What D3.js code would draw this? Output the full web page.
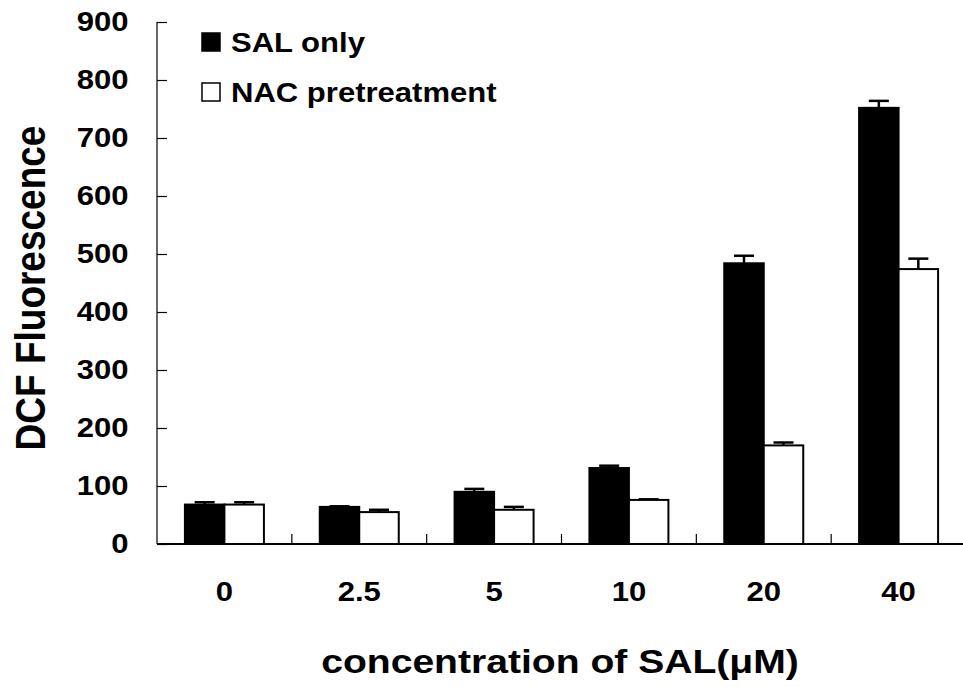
<!DOCTYPE html>
<html><head><meta charset="utf-8">
<script src="https://cdn.jsdelivr.net/npm/d3@7"></script>
<style>body{margin:0;background:#fff}svg{display:block}text{font-family:"Liberation Sans",Arial,sans-serif;font-weight:bold;fill:#000}</style>
</head><body><svg id="c" width="963" height="687"></svg>
<script>
const categories = ["0","2.5","5","10","20","40"];
const seriesNames = ["SAL only","NAC pretreatment"];
const salOnly = [68,64,90,131,484,752];
const salErr = [4,1,5,4,13,12];
const nacPre = [68,55,59,76,170,474];
const nacErr = [4,4,5,1,5,18];
const yTicks = [0,100,200,300,400,500,600,700,800,900];

(function(){
const svg = d3.select("#c");
const mLeft = 157, mRight = 966, mTop = 22, mBottom = 544;
const SX = 1.15;
const x = d3.scaleBand().domain(categories).range([mLeft, mRight]).paddingInner(0).paddingOuter(0);
const y = d3.scaleLinear().domain([0,900]).range([mBottom, mTop]);
const barW = 39.5;
const sub = d3.scaleBand().domain(seriesNames).range([0, barW*2]);

const data = categories.map((c,i)=>({c, vals:[{s:0,v:salOnly[i],e:salErr[i]},{s:1,v:nacPre[i],e:nacErr[i]}]}));

const g = svg.append("g");
data.forEach(d=>{
  d.vals.forEach(b=>{
    const cx = x(d.c) + x.bandwidth()/2 - barW + sub(seriesNames[b.s]) + barW/2;
    g.append("line").attr("x1",cx).attr("x2",cx).attr("y1",y(b.v)).attr("y2",y(b.v+b.e)).attr("stroke","#000").attr("stroke-width",2.5);
    g.append("line").attr("x1",cx-10).attr("x2",cx+10).attr("y1",y(b.v+b.e)).attr("y2",y(b.v+b.e)).attr("stroke","#000").attr("stroke-width",2.5);
  });
});
data.forEach(d=>{
  d.vals.forEach(b=>{
    const bx = x(d.c) + x.bandwidth()/2 - barW + sub(seriesNames[b.s]);
    g.append("rect").attr("x",bx).attr("y",y(b.v)).attr("width",barW).attr("height",y(0)-y(b.v))
      .attr("fill", b.s===0?"#000":"#fff").attr("stroke","#000").attr("stroke-width",2);
  });
});

const ya = svg.append("g").attr("transform",`translate(${mLeft},0)`)
  .call(d3.axisRight(y).tickValues(yTicks).tickSize(10).tickFormat(""));
ya.select(".domain").attr("stroke","#000").attr("stroke-width",1.2).attr("d",`M0,${mTop}V${mBottom}`);
ya.selectAll(".tick line").attr("stroke","#000").attr("stroke-width",1.2);
svg.append("g").selectAll("text").data(yTicks).join("text")
  .attr("transform",d=>`translate(128.5,${y(d)-1}) scale(${SX},1)`).attr("dy","0.36em").attr("text-anchor","end")
  .style("font-size","27px").text(d=>d);

const xa = svg.append("g").attr("transform",`translate(0,${mBottom})`)
  .call(d3.axisTop(x).tickSize(0).tickFormat(""));
xa.select(".domain").attr("stroke","#000").attr("stroke-width",2).attr("d",`M${mLeft},0H${mRight}`);
xa.selectAll(".tick").remove();
const bounds = categories.slice(1).map(c=>x(c)).concat([mRight]);
svg.append("g").selectAll("line").data(bounds).join("line")
  .attr("x1",d=>d).attr("x2",d=>d).attr("y1",mBottom).attr("y2",mBottom-10).attr("stroke","#000").attr("stroke-width",1.2);
svg.append("g").selectAll("text").data(categories).join("text")
  .attr("transform",d=>`translate(${x(d)+x.bandwidth()/2},601) scale(${SX},1)`).attr("text-anchor","middle")
  .style("font-size","27px").text(d=>d);

svg.append("text").attr("transform",`translate(45,288) scale(${SX},1) rotate(-90)`).attr("text-anchor","middle")
  .style("font-size","37px").text("DCF Fluorescence");
svg.append("text").attr("transform",`translate(560,673) scale(${SX},1)`).attr("text-anchor","middle")
  .style("font-size","34px").text("concentration of SAL(μM)");

const lg = svg.append("g");
seriesNames.forEach((n,i)=>{
  const ly = 42 + i*50;
  lg.append("rect").attr("x",202).attr("y",ly-9).attr("width",18).attr("height",18)
    .attr("fill",i===0?"#000":"#fff").attr("stroke","#000").attr("stroke-width",1.5);
  lg.append("text").attr("transform",`translate(231,${ly}) scale(${SX},1)`).attr("dy","0.36em").style("font-size","27px").text(n);
});
})();
</script></body></html>
